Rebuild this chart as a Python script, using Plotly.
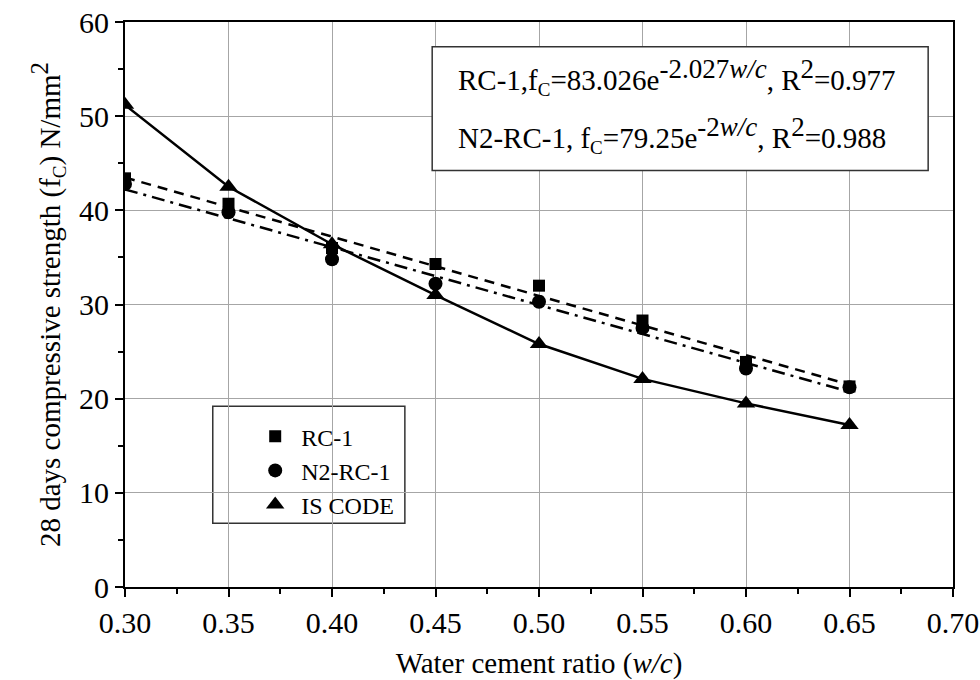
import numpy as np
import plotly.graph_objects as go

# water/cement ratio
wc = [0.30, 0.35, 0.40, 0.45, 0.50, 0.55, 0.60, 0.65]
# 28-day compressive strength, N/mm^2
rc1 = [43.4, 40.7, 36.0, 34.3, 32.0, 28.3, 23.9, 21.3]
n2_rc1 = [42.8, 39.8, 34.8, 32.2, 30.3, 27.5, 23.2, 21.2]
is_code = [51.2, 42.5, 36.4, 31.0, 25.8, 22.1, 19.5, 17.2]

x_ticks = [0.30, 0.35, 0.40, 0.45, 0.50, 0.55, 0.60, 0.65, 0.70]
x_tick_text = ["0.30", "0.35", "0.40", "0.45", "0.50", "0.55", "0.60", "0.65", "0.70"]
y_ticks = [0, 10, 20, 30, 40, 50, 60]

FONT = "Liberation Serif"

# trend lines fitted to the measured series
wc_arr = np.array(wc)
rc1_fit = np.polyval(np.polyfit(wc_arr, rc1, 1), wc_arr)
n2_fit = np.polyval(np.polyfit(wc_arr, n2_rc1, 1), wc_arr)

fig = go.Figure()

fig.add_trace(go.Scatter(x=wc, y=rc1_fit, mode="lines", showlegend=False,
                         line=dict(color="black", width=2.5, dash="10px,7px")))
fig.add_trace(go.Scatter(x=wc, y=n2_fit, mode="lines", showlegend=False,
                         line=dict(color="black", width=2.5, dash="13px,6px,3px,6px")))
fig.add_trace(go.Scatter(x=wc, y=is_code, mode="lines", showlegend=False,
                         line=dict(color="black", width=2.5)))

fig.add_trace(go.Scatter(x=wc, y=rc1, mode="markers", name="RC-1",
                         marker=dict(symbol="square", size=12, color="black")))
fig.add_trace(go.Scatter(x=wc, y=n2_rc1, mode="markers", name="N2-RC-1",
                         marker=dict(symbol="circle", size=14, color="black")))
fig.add_trace(go.Scatter(x=wc, y=is_code, mode="markers", name="IS CODE",
                         marker=dict(symbol="triangle-up", size=16, color="black")))

axis_common = dict(
    showline=True, linecolor="black", linewidth=2,
    ticks="outside", ticklen=8, tickwidth=2, tickcolor="black",
    showgrid=True, gridcolor="#a6a6a6", gridwidth=1,
    zeroline=False, automargin=False,
    tickfont=dict(family=FONT, size=30, color="black"),
)


def sup(t, size):
    return f'<sup><span style="font-size:{size}px">{t}</span></sup>'


def sub(t, size):
    return f'<sub><span style="font-size:{size}px">{t}</span></sub>'


fig.update_xaxes(
    range=[0.30, 0.70], tickvals=x_ticks, ticktext=x_tick_text,
    minor=dict(dtick=0.025, tick0=0.30, ticklen=5, tickwidth=2, tickcolor="black", ticks="outside", showgrid=False),
    title=dict(text="Water cement ratio (<i>w/c</i>)", font=dict(family=FONT, size=29, color="black"), standoff=22),
    mirror=True,
    **axis_common,
)
fig.update_yaxes(
    range=[0, 60], tickvals=y_ticks,
    minor=dict(dtick=5, tick0=0, ticklen=5, tickwidth=2, tickcolor="black", ticks="outside", showgrid=False),
    title=dict(text="28 days compressive strength (f" + sub("C", 19) + ") N/mm" + sup("2", 25),
               font=dict(family=FONT, size=29, color="black"), standoff=10),
    mirror=True,
    **axis_common,
)

# equation box
fig.add_shape(type="rect", xref="paper", yref="paper",
              x0=0.371, x1=0.970, y0=0.737, y1=0.956,
              line=dict(color="#333333", width=1.5), fillcolor="white", layer="above")
fig.add_annotation(xref="paper", yref="paper", x=0.400, y=0.902, xanchor="left", yanchor="middle",
                   text="RC-1,f" + sub("C", 19) + "=83.026e" + sup("-2.027<i>w/c</i>", 27)
                        + ", R" + sup("2", 27) + "=0.977",
                   showarrow=False, font=dict(family=FONT, size=29, color="black"))
fig.add_annotation(xref="paper", yref="paper", x=0.400, y=0.800, xanchor="left", yanchor="middle",
                   text="N2-RC-1, f" + sub("C", 19) + "=79.25e" + sup("-2<i>w/c</i>", 27)
                        + ", R" + sup("2", 27) + "=0.988",
                   showarrow=False, font=dict(family=FONT, size=29, color="black"))

# legend frame
fig.add_shape(type="rect", xref="paper", yref="paper",
              x0=0.106, x1=0.338, y0=0.113, y1=0.320,
              line=dict(color="#333333", width=1.5), fillcolor="white", layer="below")

fig.update_layout(
    width=980, height=680,
    margin=dict(l=125, r=27, t=22, b=93),
    paper_bgcolor="white", plot_bgcolor="white",
    font=dict(family=FONT, color="black"),
    legend=dict(x=0.150, y=0.306, xanchor="left", yanchor="top",
                bgcolor="rgba(0,0,0,0)", borderwidth=0,
                font=dict(family=FONT, size=24, color="black"),
                tracegroupgap=0, itemwidth=42),
)

fig.write_html("out.html")
